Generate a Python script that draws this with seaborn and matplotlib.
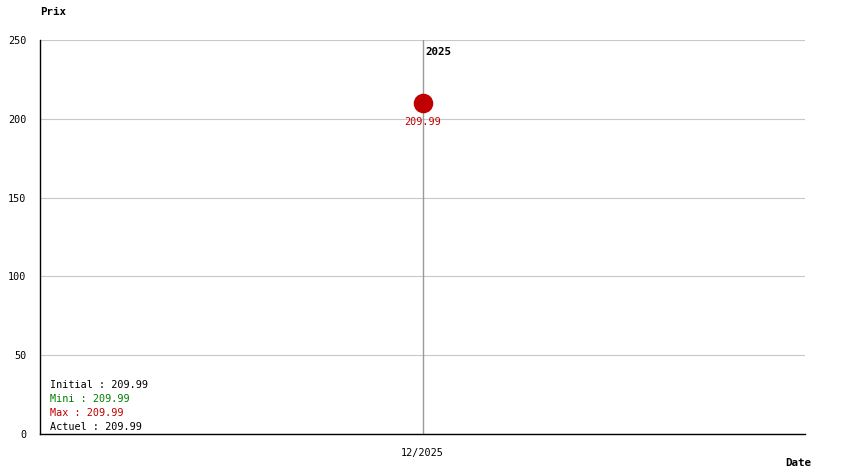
import matplotlib
matplotlib.use("Agg")
import matplotlib.pyplot as plt
import seaborn as sns
import pandas as pd

dates = ["12/2025"]
prices = [209.99]
year_labels = ["2025"]
y_ticks = [0, 50, 100, 150, 200, 250]
stats_labels = ["Initial", "Mini", "Max", "Actuel"]
stats_values = [209.99, 209.99, 209.99, 209.99]
stats_colors = ["black", "#008000", "#c00000", "black"]

sns.set_theme(style="white")
plt.rcParams['font.family'] = ['DejaVu Sans Mono']
plt.rcParams['text.color'] = 'black'
FS = 7.3

df = pd.DataFrame({"x": range(len(dates)), "Prix": prices})

fig = plt.figure(figsize=(8.44, 4.74), dpi=100)
W, H = 844, 474
ax = fig.add_axes([40 / W, (H - 434) / H, 765 / W, 394 / H])

ax.set_xlim(-1, 1)
ax.set_ylim(0, 250)
ax.set_yticks(y_ticks)
ax.yaxis.grid(True, color="#c8c8c8", linewidth=0.8)
ax.set_axisbelow(True)

for i in df["x"]:
    ax.axvline(i, color="#999999", linewidth=1, zorder=1)

sns.scatterplot(data=df, x="x", y="Prix", ax=ax, s=170, color="#c00000",
                edgecolor="#c00000", zorder=3, legend=False)

for i, p in zip(df["x"], prices):
    ax.annotate(f"{p:.2f}", (i, p), xytext=(0, -10), textcoords="offset points",
                ha="center", va="top", color="#c00000", fontsize=FS)

for i, yl in zip(df["x"], year_labels):
    ax.annotate(yl, (i, 250), xytext=(2, -5), textcoords="offset points",
                ha="left", va="top", fontsize=FS + 0.5, fontweight="bold",
                color="black")

ax.set_xticks(list(df["x"]))
ax.set_xticklabels(dates)
ax.tick_params(axis="both", length=0, labelsize=FS, colors="black")
ax.tick_params(axis="y", pad=10)
ax.tick_params(axis="x", pad=10)
ax.set_xlabel("")
ax.set_ylabel("")

for s in ["top", "right"]:
    ax.spines[s].set_visible(False)
for s in ["left", "bottom"]:
    ax.spines[s].set_color("black")
    ax.spines[s].set_linewidth(1)

fig.text(40 / W, 1 - 12 / H, "Prix", fontsize=FS + 0.5, fontweight="bold",
         ha="left", va="center", color="black")
fig.text(811 / W, 1 - 463 / H, "Date", fontsize=FS + 0.5, fontweight="bold",
         ha="right", va="center", color="black")

for k, (lab, val, col) in enumerate(zip(stats_labels, stats_values, stats_colors)):
    fig.text(50 / W, 1 - (385 + 14 * k) / H, f"{lab} : {val:.2f}", fontsize=FS,
             color=col, ha="left", va="center")

fig.savefig("out.png", dpi=100, facecolor="white")
